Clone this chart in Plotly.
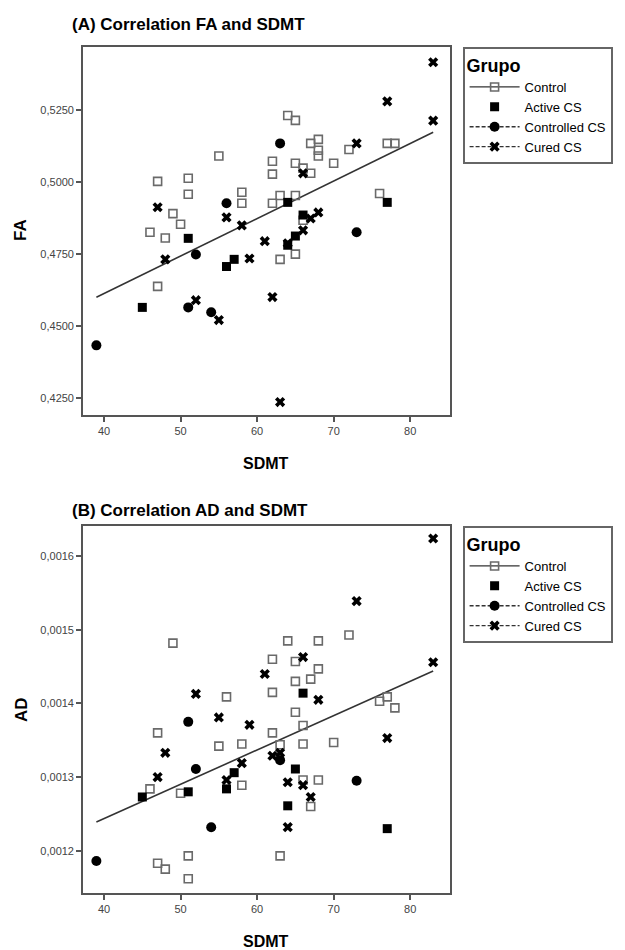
import plotly.graph_objects as go

# ---------------- data ----------------
groups = ["Control", "Active CS", "Controlled CS", "Cured CS"]

# Panel A: FA vs SDMT
a_control_x = [47, 51, 51, 49, 50, 46, 48, 55, 47, 64, 65, 67, 68, 68, 68, 62, 62, 65, 66, 67, 70, 72, 77, 78,
               58, 58, 62, 63, 65, 76, 66, 63, 65]
a_control_y = [0.5002, 0.5013, 0.4957, 0.4890, 0.4853, 0.4825, 0.4805, 0.5090, 0.4637, 0.5231, 0.5214, 0.5134,
               0.5148, 0.5110, 0.5090, 0.5072, 0.5027, 0.5065, 0.5048, 0.5030, 0.5065, 0.5113, 0.5134, 0.5134,
               0.4964, 0.4926, 0.4926, 0.4953, 0.4953, 0.4960, 0.4867, 0.4731, 0.4749]
a_active_x = [45, 51, 56, 57, 64, 64, 65, 66, 77]
a_active_y = [0.4564, 0.4804, 0.4706, 0.4731, 0.4929, 0.4780, 0.4812, 0.4885, 0.4929]
a_controlled_x = [39, 51, 52, 54, 56, 63, 73]
a_controlled_y = [0.4432, 0.4564, 0.4748, 0.4547, 0.4926, 0.5134, 0.4825]
a_cured_x = [47, 48, 52, 55, 56, 58, 59, 61, 62, 63, 64, 66, 66, 67, 68, 73, 77, 83, 83]
a_cured_y = [0.4912, 0.4731, 0.4589, 0.4520, 0.4877, 0.4849, 0.4734, 0.4794, 0.4600, 0.4235, 0.4787, 0.5030,
             0.4832, 0.4873, 0.4894, 0.5134, 0.5280, 0.5416, 0.5213]
a_fit_x = [39, 83]
a_fit_y = [0.4599, 0.5173]

# Panel B: AD vs SDMT
b_control_x = [49, 47, 55, 46, 50, 51, 47, 48, 51, 64, 68, 72, 62, 65, 68, 67, 65, 62, 56, 65, 66, 76, 77, 78,
               62, 58, 63, 66, 70, 58, 66, 68, 67, 63]
b_control_y = [0.001482, 0.001360, 0.001342, 0.001284, 0.001278, 0.001193, 0.001183, 0.001175, 0.001162,
               0.001485, 0.001485, 0.001493, 0.001460, 0.001457, 0.001447, 0.001433, 0.001430, 0.001415,
               0.001409, 0.001388, 0.001370, 0.001403, 0.001409, 0.001394, 0.001360, 0.001345, 0.001344,
               0.001345, 0.001347, 0.001289, 0.001296, 0.001296, 0.001260, 0.001193]
b_active_x = [45, 51, 56, 57, 64, 65, 66, 77]
b_active_y = [0.001273, 0.001280, 0.001284, 0.001306, 0.001261, 0.001311, 0.001414, 0.001230]
b_controlled_x = [39, 51, 52, 54, 63, 73]
b_controlled_y = [0.001186, 0.001375, 0.001311, 0.001232, 0.001323, 0.001295]
b_cured_x = [52, 55, 48, 47, 59, 56, 58, 62, 63, 64, 66, 67, 64, 77, 73, 66, 61, 68, 83, 83]
b_cured_y = [0.001413, 0.001381, 0.001333, 0.001300, 0.001371, 0.001296, 0.001319, 0.001329, 0.001333,
             0.001293, 0.001289, 0.001273, 0.001232, 0.001353, 0.001539, 0.001463, 0.001440, 0.001405,
             0.001624, 0.001456]
b_fit_x = [39, 83]
b_fit_y = [0.001239, 0.001444]

x_ticks = [40, 50, 60, 70, 80]
a_y_ticks = [0.425, 0.45, 0.475, 0.5, 0.525]
b_y_ticks = [0.0012, 0.0013, 0.0014, 0.0015, 0.0016]

# ---------------- styles ----------------
W, H = 625, 950
FONT = "Liberation Sans"
NARROW = "Liberation Sans Narrow, Liberation Sans, Arial"

styles = {
    "Control": dict(symbol="square-open", size=8, color="#6a6a6a", line=dict(width=1.6, color="#6a6a6a")),
    "Active CS": dict(symbol="square", size=9, color="black", line=dict(width=0)),
    "Controlled CS": dict(symbol="circle", size=10, color="black", line=dict(width=0)),
    "Cured CS": dict(symbol="x", size=9, color="black", line=dict(width=0)),
}
leg_lines = {
    "Control": dict(mode="lines+markers", line=dict(color="#333", width=1.3)),
    "Active CS": dict(mode="markers", line=dict(color="#333", width=1.3)),
    "Controlled CS": dict(mode="lines+markers", line=dict(color="#333", width=1.3, dash="4px,2px")),
    "Cured CS": dict(mode="lines+markers", line=dict(color="#333", width=1.3, dash="4px,2px")),
}

fig = go.Figure()

panels = [
    ("x", "y", "legend",
     [(a_control_x, a_control_y), (a_active_x, a_active_y), (a_controlled_x, a_controlled_y), (a_cured_x, a_cured_y)],
     a_fit_x, a_fit_y),
    ("x2", "y2", "legend2",
     [(b_control_x, b_control_y), (b_active_x, b_active_y), (b_controlled_x, b_controlled_y), (b_cured_x, b_cured_y)],
     b_fit_x, b_fit_y),
]

for xa, ya, leg, series, fx, fy in panels:
    fig.add_trace(go.Scatter(x=fx, y=fy, mode="lines", line=dict(color="#333", width=1.6),
                             xaxis=xa, yaxis=ya, showlegend=False, hoverinfo="skip"))
    for g, (sx, sy) in zip(groups, series):
        fig.add_trace(go.Scatter(x=sx, y=sy, mode="markers", marker=styles[g], name=g,
                                 xaxis=xa, yaxis=ya, showlegend=False))
    for g in groups:
        fig.add_trace(go.Scatter(x=[None], y=[None], name=g, marker=styles[g], xaxis=xa, yaxis=ya,
                                 legend=leg, showlegend=True, **leg_lines[g]))

def px_x(p):
    return p / W

def px_y(p):
    return 1 - p / H

xdom = [px_x(83), px_x(450)]
axis_common = dict(showline=True, linecolor="#555", linewidth=1.6, mirror=True, ticks="outside",
                   ticklen=5, tickwidth=1.6, tickcolor="#555", showgrid=False, zeroline=False,
                   tickfont=dict(family=NARROW, size=11, color="#444"))

legend_common = dict(xanchor="left", yanchor="top", bordercolor="#666", borderwidth=1.6, bgcolor="white",
                     title=dict(text="<b>Grupo</b>", font=dict(family=FONT, size=18)),
                     font=dict(family=NARROW, size=13, color="black"), tracegroupgap=0, itemwidth=50)

fig.update_layout(
    width=W, height=H,
    margin=dict(l=0, r=0, t=0, b=0),
    paper_bgcolor="white", plot_bgcolor="white",
    separators=",.",
    font=dict(family=FONT, color="black"),
    xaxis=dict(domain=xdom, range=[37.25, 85.2], tickvals=x_ticks, anchor="y", **axis_common),
    yaxis=dict(domain=[px_y(415), px_y(47)], range=[0.4190, 0.5469], tickvals=a_y_ticks,
               tickformat=".4f", anchor="x", **axis_common),
    xaxis2=dict(domain=xdom, range=[37.25, 85.2], tickvals=x_ticks, anchor="y2", **axis_common),
    yaxis2=dict(domain=[px_y(893), px_y(526)], range=[0.0011426, 0.001641], tickvals=b_y_ticks,
                tickformat=".4f", anchor="x2", **axis_common),
    legend=dict(x=px_x(463), y=px_y(47), **legend_common),
    legend2=dict(x=px_x(463), y=px_y(526), **legend_common),
    showlegend=True,
)

annots = [
    dict(text="<b>(A) Correlation FA and SDMT</b>", x=px_x(70), y=px_y(25), xanchor="left", yanchor="middle", size=17),
    dict(text="<b>(B) Correlation AD and SDMT</b>", x=px_x(70), y=px_y(510), xanchor="left", yanchor="middle", size=17),
    dict(text="<b>SDMT</b>", x=px_x(266), y=px_y(464), xanchor="center", yanchor="middle", size=16),
    dict(text="<b>SDMT</b>", x=px_x(266), y=px_y(941), xanchor="center", yanchor="middle", size=16),
]
for a in annots:
    fig.add_annotation(text=a["text"], x=a["x"], y=a["y"], xref="paper", yref="paper",
                       xanchor=a["xanchor"], yanchor=a["yanchor"], showarrow=False,
                       font=dict(family=FONT, size=a["size"], color="black"))
for txt, yc in [("<b>FA</b>", 230), ("<b>AD</b>", 710)]:
    fig.add_annotation(text=txt, x=px_x(21), y=px_y(yc), xref="paper", yref="paper",
                       xanchor="center", yanchor="middle", showarrow=False, textangle=-90,
                       font=dict(family=FONT, size=17, color="black"))

fig.write_html("out.html")
